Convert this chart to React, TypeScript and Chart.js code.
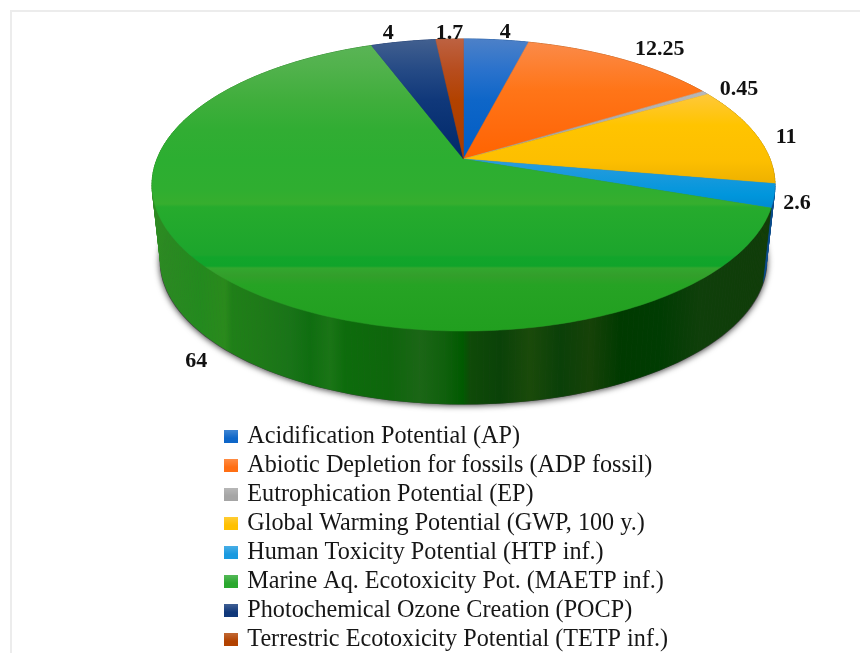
import React, { useEffect, useRef } from "react";
import { Chart, registerables } from "chart.js";

Chart.register(...registerables);

const categories = [
  "Acidification Potential (AP)",
  "Abiotic Depletion for fossils (ADP fossil)",
  "Eutrophication Potential (EP)",
  "Global Warming Potential (GWP, 100 y.)",
  "Human Toxicity Potential (HTP inf.)",
  "Marine Aq. Ecotoxicity Pot. (MAETP inf.)",
  "Photochemical Ozone Creation (POCP)",
  "Terrestric Ecotoxicity Potential (TETP inf.)",
];
const values = [4, 12.25, 0.45, 11, 2.6, 64, 4, 1.7];
const legendColors = ["#0e66c8", "#ff6f14", "#a5a5a5", "#ffc000", "#1a9ae0", "#2aa82e", "#10387a", "#b24200"];

// vertical shading of the top face: [y, colour]
const faceShades: [number, string][][] = [
  [[40, "#4b80c8"], [70, "#2a72cc"], [100, "#0e66c8"], [158, "#005cc4"]],
  [[43, "#fb8a48"], [90, "#ff7518"], [130, "#ff6a0c"], [158, "#ff6400"]],
  [[90, "#b8b8b8"], [158, "#a0a0a0"]],
  [[95, "#ffc838"], [125, "#ffc400"], [160, "#fdbf00"], [183, "#eeb100"]],
  [[160, "#2b9cdd"], [195, "#0096dc"], [208, "#008bd2"]],
  [[40, "#5cb558"], [65, "#52b24d"], [100, "#40ae3c"], [130, "#31ad33"], [160, "#2cae31"], [190, "#2fae30"],
   [204, "#36ae2e"], [207, "#26ab2d"], [255, "#1ca52c"], [257, "#12a52b"], [266, "#10a42a"], [268, "#32a72e"],
   [275, "#339f2b"], [285, "#26a324"], [331, "#219f1f"]],
  [[40, "#415f8f"], [70, "#254a85"], [100, "#10387a"], [158, "#00296a"]],
  [[40, "#bd6140"], [70, "#b74d1e"], [100, "#b24200"], [158, "#a83c00"]],
];
// horizontal shading of the rim: [x, colour]
const rimShades: [number, string][][] = [
  [[0, "#003a80"]], [[0, "#a04a08"]], [[0, "#707070"]], [[0, "#a87c00"]],
  [[700, "#0a4a8a"], [775, "#0a4a8a"]],
  [[157, "#2c8a22"], [200, "#238a1e"], [225, "#2a8a1c"], [232, "#1f8018"], [260, "#1e7a18"], [290, "#197418"],
   [310, "#0f6e10"], [330, "#1a7516"], [345, "#0d6c0c"], [390, "#0e660c"], [420, "#1b6616"], [445, "#0f600c"],
   [463, "#005a00"], [470, "#0f4a08"], [500, "#0a4208"], [530, "#1a4a0a"], [560, "#0a4008"], [590, "#164208"],
   [620, "#003a00"], [660, "#003c02"], [700, "#0f3f0a"], [765, "#0f3c08"]],
  [[0, "#00205a"]], [[0, "#7a2c00"]],
];
const labelNudges: [number, number][] = [[9, -7], [37, -10], [34, -4], [30, 2], [23, 8], [-22, 86], [-15, -8], [0, -6]];

const CX = 463.5;
const TOP = { y0: 159, a: 306.5, b: 141.4 };
const BOTTOM = { y0: 235, a: 298, b: 139 };
const K = 0.178;

function project(d: { y0: number; a: number; b: number }, angle: number): [number, number] {
  const u = Math.cos(angle);
  const v = Math.sin(angle);
  const w = 1 - K * v;
  return [CX + (d.a * u) / w, d.y0 + (d.b * v) / w];
}

function gradient(ctx: CanvasRenderingContext2D, stops: [number, string][], vertical: boolean) {
  const lo = stops[0][0];
  const hi = stops[stops.length - 1][0];
  if (hi === lo) return stops[0][1];
  const g = vertical ? ctx.createLinearGradient(0, lo, 0, hi) : ctx.createLinearGradient(lo, 0, hi, 0);
  stops.forEach(([p, c]) => g.addColorStop((p - lo) / (hi - lo), c));
  return g;
}

function legendSwatch(color: string) {
  const c = document.createElement("canvas");
  c.width = 14;
  c.height = 13;
  const g = c.getContext("2d") as CanvasRenderingContext2D;
  g.fillStyle = color;
  g.fillRect(0, 0, 14, 13);
  const sheen = g.createLinearGradient(0, 0, 0, 8);
  sheen.addColorStop(0, "rgba(255,255,255,0.2)");
  sheen.addColorStop(1, "rgba(255,255,255,0)");
  g.fillStyle = sheen;
  g.fillRect(0, 0, 14, 8);
  return c;
}

const pie3d = {
  id: "pie3d",
  afterLayout(chart: any) {
    chart.legend.top = 419.9;
    chart.legend.bottom = 720;
  },
  beforeDraw(chart: any) {
    const { ctx, width, height } = chart;
    ctx.save();
    ctx.fillStyle = "#fff";
    ctx.fillRect(0, 0, width, height);
    ctx.fillStyle = "#ececec";
    ctx.fillRect(10, 10, width - 10, 2);
    ctx.fillRect(10, 10, 2, height - 10);
    ctx.restore();
  },
  beforeDatasetDraw(chart: any) {
    const ctx: CanvasRenderingContext2D = chart.ctx;
    const arcs = chart.getDatasetMeta(0).data;
    ctx.save();

    // cast shadow under the disc
    ctx.save();
    ctx.shadowColor = "rgba(0,0,0,0.75)";
    ctx.shadowBlur = 6;
    ctx.shadowOffsetY = 1;
    ctx.fillStyle = "#444";
    ctx.beginPath();
    for (let i = 0; i <= 180; i++) {
      const [x, y] = project({ ...BOTTOM, a: BOTTOM.a + 1 }, (i / 180) * 2 * Math.PI);
      i ? ctx.lineTo(x, y + 0.5) : ctx.moveTo(x, y + 0.5);
    }
    ctx.closePath();
    ctx.fill();
    ctx.restore();

    // rim
    const order = arcs.map((_: any, i: number) => i).sort((p: number, q: number) =>
      Math.sin((arcs[p].startAngle + arcs[p].endAngle) / 2) - Math.sin((arcs[q].startAngle + arcs[q].endAngle) / 2));
    order.forEach((i: number) => {
      const { startAngle, endAngle } = arcs[i];
      const paint = gradient(ctx, rimShades[i], false);
      ctx.fillStyle = paint;
      ctx.strokeStyle = paint;
      ctx.lineWidth = 0.7;
      const n = Math.max(2, Math.ceil(((endAngle - startAngle) * 180) / Math.PI));
      for (let s = 0; s < n; s++) {
        const a0 = startAngle + ((endAngle - startAngle) * s) / n;
        const a1 = startAngle + ((endAngle - startAngle) * (s + 1)) / n;
        const p = [project(TOP, a0), project(TOP, a1), project(BOTTOM, a1), project(BOTTOM, a0)];
        ctx.beginPath();
        p.forEach(([x, y], j) => (j ? ctx.lineTo(x, y) : ctx.moveTo(x, y)));
        ctx.closePath();
        ctx.fill();
        ctx.stroke();
      }
    });

    // top face
    arcs.forEach((arc: any, i: number) => {
      const { startAngle, endAngle } = arc;
      const paint = gradient(ctx, faceShades[i], true);
      ctx.fillStyle = paint;
      ctx.strokeStyle = paint;
      ctx.lineWidth = 0.5;
      ctx.beginPath();
      ctx.moveTo(CX, TOP.y0);
      const n = Math.max(4, Math.ceil(((endAngle - startAngle) * 180) / Math.PI));
      for (let s = 0; s <= n; s++) {
        const [x, y] = project(TOP, startAngle + ((endAngle - startAngle) * s) / n);
        ctx.lineTo(x, y);
      }
      ctx.closePath();
      ctx.fill();
      ctx.stroke();
    });
    ctx.restore();
    return false;
  },
  afterDatasetsDraw(chart: any) {
    const ctx: CanvasRenderingContext2D = chart.ctx;
    const arcs = chart.getDatasetMeta(0).data;
    ctx.save();
    ctx.fillStyle = "#111";
    ctx.font = 'bold 22px "Liberation Serif"';
    ctx.textAlign = "center";
    ctx.textBaseline = "middle";
    arcs.forEach((arc: any, i: number) => {
      const [x, y] = project(TOP, (arc.startAngle + arc.endAngle) / 2);
      ctx.fillText(String(values[i]), x + labelNudges[i][0], y + labelNudges[i][1]);
    });
    ctx.restore();
  },
};

export default function App() {
  const ref = useRef<HTMLCanvasElement>(null);
  useEffect(() => {
    const chart = new Chart(ref.current as HTMLCanvasElement, {
      type: "pie",
      data: { labels: categories, datasets: [{ data: values, backgroundColor: legendColors, borderWidth: 0 }] },
      options: {
        animation: false,
        responsive: false,
        layout: { padding: { left: 222.4, top: 405, right: 0, bottom: 0 } },
        plugins: {
          tooltip: { enabled: false },
          legend: {
            position: "chartArea",
            align: "start",
            labels: {
              usePointStyle: true,
              pointStyleWidth: 8,
              boxHeight: 13,
              padding: 4.8,
              color: "#161616",
              font: { family: '"Liberation Serif"', size: 24.2, lineHeight: 1 },
              generateLabels(c: any) {
                const base = (Chart as any).overrides.pie.plugins.legend.labels.generateLabels(c);
                return base.map((item: any, i: number) => ({ ...item, pointStyle: legendSwatch(legendColors[i]) }));
              },
            },
          },
        },
      },
      plugins: [pie3d],
    } as any);
    return () => chart.destroy();
  }, []);
  return (
    <div style={{ position: "absolute", left: 0, top: 0, width: 860, height: 653, overflow: "hidden" }}>
      <canvas ref={ref} width={860} height={653} style={{ display: "block" }} />
    </div>
  );
}
